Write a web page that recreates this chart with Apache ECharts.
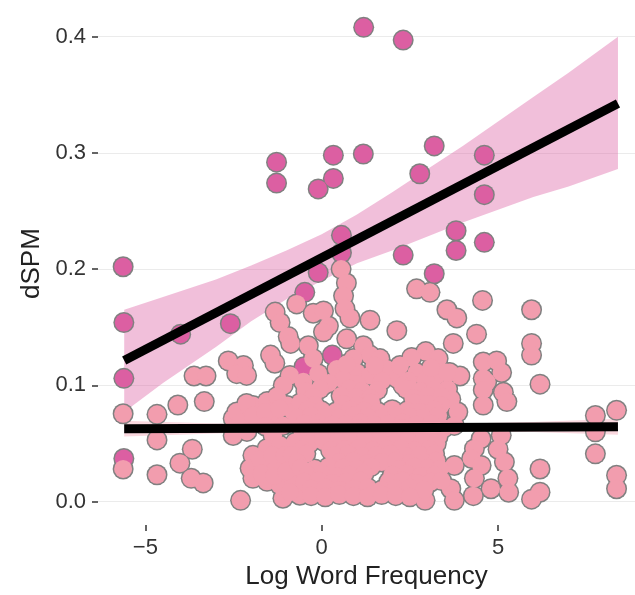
<!DOCTYPE html>
<html lang="en">
<head>
	<meta charset="UTF-8">
	<title>dSPM vs Log Word Frequency</title>
	<script src="https://cdn.jsdelivr.net/npm/echarts@6/dist/echarts.min.js"></script>
	<style>
		html, body { margin: 0; padding: 0; background: #fff; }
		#chart { width: 635px; height: 595px; }
	</style>
</head>
<body>
	<div id="chart"></div>
	<script>
		// ---- data ----
		var xTicks = [-5, 0, 5];
		var yTicks = [0, 0.1, 0.2, 0.3, 0.4];

		// dark magenta group
		var hotPoints = [
			[-5.63, 0.202], [-5.61, 0.154], [-5.61, 0.106], [-5.61, 0.037], [-4.0, 0.144], [-2.59, 0.153],
			[-1.28, 0.292], [-1.28, 0.274], [-0.10, 0.269], [0.33, 0.298], [0.33, 0.278], [1.18, 0.299],
			[1.19, 0.408], [2.31, 0.397], [3.19, 0.306], [2.78, 0.282], [4.61, 0.298], [4.61, 0.264],
			[3.81, 0.233], [3.81, 0.216], [4.61, 0.223], [2.31, 0.212], [0.56, 0.229], [0.56, 0.214],
			[-0.10, 0.197], [-0.48, 0.180], [3.19, 0.196], [0.30, 0.126], [-0.50, 0.116], [-0.50, 0.061],
			[-0.74, 0.018]
		];

		// light pink group: outlying points
		var coolOuter = [
			[-5.63, 0.0755], [-5.63, 0.028], [-4.67, 0.075], [-4.67, 0.053], [-4.67, 0.023],
			[-4.08, 0.083], [-3.33, 0.086], [-3.67, 0.045], [-4.02, 0.033], [-3.70, 0.020], [-3.36, 0.016],
			[-2.30, 0.001], [-3.62, 0.108], [-3.28, 0.108], [-2.65, 0.121], [-2.22, 0.117], [-2.41, 0.110],
			[-2.13, 0.1085], [-1.45, 0.126], [-1.33, 0.119], [-1.32, 0.163], [-1.18, 0.154], [-0.95, 0.142],
			[-0.88, 0.136], [-0.71, 0.170], [-0.24, 0.162], [0.05, 0.164], [0.19, 0.151], [0.05, 0.146],
			[0.55, 0.200], [0.70, 0.188], [0.62, 0.177], [0.66, 0.166], [0.80, 0.158],
			[1.37, 0.156], [2.13, 0.147], [2.69, 0.183], [3.07, 0.180], [3.55, 0.165], [3.83, 0.158],
			[4.56, 0.173], [5.95, 0.165], [4.39, 0.144], [3.73, 0.136], [5.95, 0.136], [5.95, 0.126],
			[2.95, 0.129], [3.30, 0.123], [4.58, 0.120], [4.96, 0.121], [5.10, 0.111], [4.68, 0.103],
			[4.58, 0.106], [4.58, 0.096], [5.15, 0.094], [4.58, 0.083], [5.25, 0.086], [3.63, 0.111],
			[3.92, 0.108], [6.19, 0.101], [3.57, 0.097], [3.66, 0.088], [3.86, 0.077], [3.76, 0.0655],
			[4.52, 0.054], [5.09, 0.057], [4.33, 0.0455], [5.0, 0.045], [4.25, 0.037], [4.52, 0.031],
			[5.18, 0.034], [4.33, 0.020], [5.28, 0.020], [4.80, 0.011], [5.3, 0.008], [4.3, 0.005],
			[3.76, 0.031], [3.66, 0.011], [3.76, 0.001], [6.19, 0.028], [6.19, 0.008], [5.95, 0.002],
			[7.76, 0.074], [7.76, 0.060], [7.76, 0.041], [8.36, 0.0785], [8.36, 0.0226], [8.36, 0.011],
			[2.93, 0.001]
		];

		// light pink group: top of the dense cloud
		var coolTop = [
			[-0.38, 0.134], [-0.24, 0.123], [0.71, 0.140], [1.18, 0.134], [1.37, 0.126], [1.65, 0.123],
			[0.90, 0.123], [0.43, 0.114], [0.99, 0.111], [1.84, 0.114], [1.37, 0.1085], [2.13, 0.106],
			[2.55, 0.124], [2.22, 0.117], [2.69, 0.111], [3.26, 0.1085], [3.54, 0.111], [-0.90, 0.1085],
			[-1.09, 0.100], [-0.52, 0.103], [0.05, 0.100], [-0.1, 0.110], [0.6, 0.105], [1.7, 0.104],
			[2.45, 0.104], [2.95, 0.104], [3.1, 0.115], [0.2, 0.102], [1.0, 0.101], [2.3, 0.100],
			[1.5, 0.117], [0.7, 0.118]
		];

		// light pink group: left part of the dense cloud
		var coolLeft = [
			[-2.51, 0.0714], [-2.17, 0.0774], [-1.95, 0.0826], [-1.55, 0.0860], [-1.27, 0.0903],
			[-0.98, 0.0826], [-0.81, 0.0774], [-2.51, 0.0568], [-2.12, 0.0603], [-1.81, 0.0688],
			[-1.38, 0.0714], [-1.10, 0.0654], [-1.38, 0.0568], [-1.95, 0.0397], [-1.55, 0.0457],
			[-1.18, 0.0483], [-2.03, 0.0286], [-1.66, 0.0311], [-1.27, 0.0311], [-0.90, 0.0346],
			[-1.95, 0.0200], [-1.55, 0.0174], [-1.18, 0.0140], [-0.81, 0.0200], [-0.62, 0.0054],
			[-1.10, 0.0028], [-2.41, 0.077], [-2.13, 0.0843],
			[-2.3, 0.068], [-1.95, 0.074], [-1.6, 0.077], [-1.2, 0.080], [-1.6, 0.065], [-1.75, 0.036],
			[-1.4, 0.040], [-1.05, 0.040], [-1.7, 0.024], [-1.35, 0.022], [-1.0, 0.026], [-0.9, 0.008]
		];

		// light pink group: body of the dense cloud (small gaps left where the picture shows holes)
		var coolCore = [
			[-0.45, 0.095], [-0.05, 0.097], [0.78, 0.097], [1.15, 0.095], [1.58, 0.096],
			[2.4, 0.097], [2.8, 0.095], [3.2, 0.096],
			[-0.25, 0.090], [0.55, 0.091], [0.98, 0.090], [1.38, 0.089],
			[2.6, 0.089], [3.0, 0.091], [3.4, 0.090],
			[-0.6, 0.085], [-0.2, 0.083], [0.6, 0.084], [1.0, 0.083], [1.4, 0.085],
			[2.62, 0.085], [3.0, 0.084], [3.38, 0.083],
			[-0.4, 0.079], [0.0, 0.078], [0.4, 0.077], [0.8, 0.079], [1.2, 0.078], [1.6, 0.077],
			[2.0, 0.079], [2.42, 0.078], [2.8, 0.077], [3.2, 0.079],
			[-0.68, 0.072], [-0.3, 0.074], [0.08, 0.073], [0.5, 0.072], [0.9, 0.074], [1.3, 0.073],
			[1.72, 0.072], [2.1, 0.074], [2.5, 0.073], [2.9, 0.072], [3.3, 0.074],
			[-0.5, 0.067], [-0.1, 0.068], [0.3, 0.066], [0.7, 0.067], [1.1, 0.068], [1.5, 0.066],
			[1.9, 0.067], [2.3, 0.068], [2.7, 0.066], [3.1, 0.067],
			[-0.55, 0.061], [-0.15, 0.063], [0.25, 0.062], [0.65, 0.061], [1.05, 0.063], [1.45, 0.062],
			[1.85, 0.061], [2.28, 0.063], [2.7, 0.062], [3.1, 0.061], [3.45, 0.063],
			[-0.35, 0.056], [0.05, 0.057], [0.45, 0.055], [0.85, 0.056], [1.25, 0.057], [1.65, 0.055],
			[2.05, 0.056], [2.5, 0.057], [2.9, 0.055], [3.3, 0.056],
			[-0.75, 0.051], [-0.35, 0.050], [0.05, 0.052], [0.45, 0.051], [0.85, 0.050], [1.25, 0.052],
			[1.65, 0.051], [2.05, 0.050], [2.45, 0.052], [2.85, 0.051], [3.25, 0.050],
			[-0.55, 0.045], [0.25, 0.044], [0.65, 0.045], [1.05, 0.046], [1.45, 0.044],
			[1.85, 0.045], [2.25, 0.046], [2.65, 0.044], [3.05, 0.045],
			[-0.85, 0.040], [-0.45, 0.041], [0.35, 0.040], [0.75, 0.041], [1.15, 0.039],
			[1.55, 0.040], [1.95, 0.041], [2.4, 0.039], [2.8, 0.040], [3.2, 0.041],
			[-0.7, 0.034], [0.5, 0.034], [0.9, 0.035], [1.3, 0.033],
			[1.7, 0.034], [2.1, 0.035], [2.5, 0.033], [2.9, 0.034], [3.25, 0.035],
			[-0.6, 0.029], [-0.2, 0.028], [0.2, 0.030], [0.6, 0.029], [1.0, 0.028], [1.4, 0.030],
			[2.2, 0.028], [2.62, 0.030], [3.0, 0.029], [3.35, 0.028],
			[-0.4, 0.023], [0.0, 0.024], [0.4, 0.022], [0.8, 0.023], [1.2, 0.024],
			[2.0, 0.023], [2.4, 0.024], [2.8, 0.022], [3.2, 0.023],
			[-0.5, 0.017], [-0.1, 0.018], [0.3, 0.016], [0.7, 0.017], [1.1, 0.018],
			[1.9, 0.017], [2.3, 0.018], [2.7, 0.016], [3.1, 0.017], [3.4, 0.018],
			[-0.3, 0.011], [0.1, 0.012], [0.5, 0.010], [0.9, 0.011], [1.3, 0.012], [1.7, 0.010],
			[2.1, 0.011], [2.5, 0.012], [2.9, 0.010],
			[-0.3, 0.005], [0.1, 0.004], [0.5, 0.006], [0.9, 0.005], [1.3, 0.004], [1.7, 0.006],
			[2.1, 0.005], [2.5, 0.004]
		];

		// fitted lines (end points) and their confidence bands
		var hotFit = [[-5.6, 0.1213], [8.4, 0.3425]];
		var coolFit = [[-5.6, 0.0627], [8.4, 0.0643]];

		var hotBandX = [-5.6, -4.5, -3, -2, -1, 0, 1, 2, 3, 4, 5, 6, 7, 8.4];
		var hotBandUp = [0.165, 0.176, 0.191, 0.203, 0.216, 0.230, 0.247, 0.266, 0.286, 0.306, 0.327, 0.348, 0.369, 0.400];
		var hotBandLow = [0.077, 0.102, 0.133, 0.155, 0.174, 0.190, 0.205, 0.216, 0.228, 0.240, 0.251, 0.262, 0.271, 0.286];

		var coolBandX = [-5.6, -3, 0, 1, 3, 6, 8.4];
		var coolBandUp = [0.0695, 0.0672, 0.0660, 0.0660, 0.0665, 0.0685, 0.0712];
		var coolBandLow = [0.0560, 0.0585, 0.0605, 0.0607, 0.0610, 0.0598, 0.0574];

		var coolPoints = coolOuter.concat(coolTop, coolLeft, coolCore);
		var allPoints = hotPoints.concat(coolPoints);

		// ---- chart ----
		var fontFam = '"Liberation Sans", Arial, sans-serif';
		var pink = '#f29dae', magenta = '#dc5fa2', rim = '#808080';

		function bandSeries(xs, ups, lows, fill) {
			return {
				type: 'custom',
				silent: true,
				data: [[xs[0], ups[0]]],
				renderItem: function (params, api) {
					var pts = [];
					for (var i = 0; i < xs.length; i++) pts.push(api.coord([xs[i], ups[i]]));
					for (var j = xs.length - 1; j >= 0; j--) pts.push(api.coord([xs[j], lows[j]]));
					return { type: 'polygon', shape: { points: pts }, style: { fill: fill } };
				}
			};
		}

		// dots are drawn as a grey disc layer under a fill layer,
		// so touching dots merge into one outlined shape
		function dotSeries(data, color, size) {
			return {
				type: 'scatter',
				data: data,
				symbolSize: size,
				itemStyle: { color: color, opacity: 1 },
				silent: true
			};
		}

		function fitSeries(data) {
			return {
				type: 'line',
				data: data,
				symbol: 'none',
				silent: true,
				lineStyle: { color: '#000', width: 9, cap: 'butt' }
			};
		}

		function axisCommon(ticks, fmt) {
			return {
				nameLocation: 'middle',
				nameTextStyle: { fontFamily: fontFam, fontSize: 26, color: '#222' },
				axisLine: { show: false, onZero: false },
				axisTick: { show: true, length: 6, customValues: ticks, lineStyle: { color: '#333', width: 1.5 } },
				axisLabel: { customValues: ticks, margin: 12, fontFamily: fontFam, fontSize: 22, color: '#333', formatter: fmt }
			};
		}

		var xAx = axisCommon(xTicks, function (v) { return v < 0 ? '\u2212' + Math.abs(v) : String(v); });
		xAx.type = 'value'; xAx.min = -6.343; xAx.max = 8.883;
		xAx.name = 'Log Word Frequency'; xAx.nameGap = 38;
		xAx.splitLine = { show: false };

		var yAx = axisCommon(yTicks, function (v) { return v.toFixed(1); });
		yAx.type = 'value'; yAx.min = -0.0203; yAx.max = 0.4298;
		yAx.name = 'dSPM'; yAx.nameGap = 51;
		yAx.splitLine = { show: true, lineStyle: { color: '#ebebeb', width: 1 } };

		var chart = echarts.init(document.getElementById('chart'));
		chart.setOption({
			animation: false,
			backgroundColor: '#fff',
			grid: { left: 98, right: 0, top: 2, bottom: 68 },
			xAxis: xAx,
			yAxis: yAx,
			series: [
				dotSeries(allPoints, rim, 21),
				dotSeries(hotPoints, magenta, 18),
				dotSeries(coolPoints, pink, 18),
				bandSeries(hotBandX, hotBandUp, hotBandLow, 'rgba(220,95,162,0.4)'),
				bandSeries(coolBandX, coolBandUp, coolBandLow, 'rgba(242,157,174,0.4)'),
				fitSeries(hotFit),
				fitSeries(coolFit)
			]
		});
	</script>
</body>
</html>
